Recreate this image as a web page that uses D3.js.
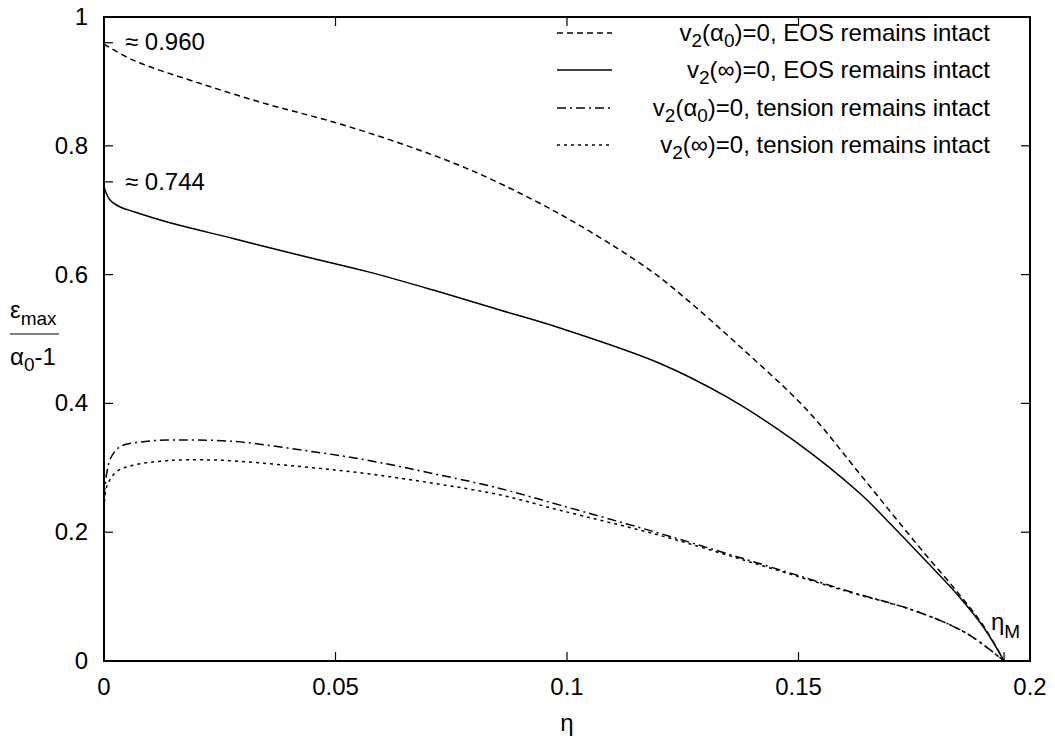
<!DOCTYPE html>
<html>
<head>
<meta charset="utf-8">
<script src="https://cdn.jsdelivr.net/npm/d3@7"></script>
<style>
  body { margin: 0; background: #fff; }
  svg { font-family: "Liberation Sans", Arial, sans-serif; }
</style>
</head>
<body>
<svg id="chart" width="1055" height="740"></svg>
<script>
// eta values and curve values
const etaM = 0.1944;

const eosAlpha = [
  [0, 0.958], [0.0063, 0.933], [0.0207, 0.897], [0.0351, 0.865], [0.0495, 0.837],
  [0.0639, 0.804], [0.0783, 0.765], [0.0927, 0.716], [0.1045, 0.669], [0.1179, 0.607],
  [0.1251, 0.566], [0.1374, 0.488], [0.1518, 0.390], [0.1633, 0.290], [0.1705, 0.226],
  [0.1777, 0.163], [0.1842, 0.108], [0.190, 0.054], [etaM, 0]
];

const eosInf = [
  [0, 0.738], [0.0002, 0.732], [0.0013, 0.716], [0.0035, 0.705], [0.0063, 0.698],
  [0.0135, 0.682], [0.0279, 0.656], [0.0423, 0.630], [0.0567, 0.605], [0.0711, 0.576],
  [0.0855, 0.545], [0.0985, 0.517], [0.1201, 0.462], [0.1345, 0.410], [0.1489, 0.343],
  [0.1633, 0.260], [0.1705, 0.208], [0.1777, 0.154], [0.1842, 0.104], [0.190, 0.052], [etaM, 0]
];

const tensionAlpha = [
  [0, 0.255], [0.0006, 0.292], [0.0015, 0.316], [0.0035, 0.333], [0.0078, 0.340],
  [0.0135, 0.343], [0.0279, 0.341], [0.0423, 0.328], [0.0567, 0.312], [0.0711, 0.291],
  [0.0855, 0.268], [0.0985, 0.242], [0.1201, 0.198], [0.1417, 0.151], [0.161, 0.108],
  [0.1755, 0.077], [0.1863, 0.043], [etaM, 0]
];

const tensionInf = [
  [0, 0.225], [0.0006, 0.271], [0.0027, 0.294], [0.0063, 0.304], [0.0135, 0.311],
  [0.0243, 0.312], [0.0423, 0.302], [0.0567, 0.291], [0.0711, 0.276], [0.0855, 0.258],
  [0.0985, 0.234], [0.1201, 0.195], [0.1417, 0.149], [0.161, 0.107], [0.1755, 0.077],
  [0.1863, 0.043], [etaM, 0]
];

const xTicks = [0, 0.05, 0.1, 0.15, 0.2];
const xTickLabels = ['0', '0.05', '0.1', '0.15', '0.2'];
const yTicks = [0, 0.2, 0.4, 0.6, 0.8, 1];
const yTickLabels = ['0', '0.2', '0.4', '0.6', '0.8', '1'];

const series = [
  { data: eosAlpha, dash: '6,4', label: ['v', '2', '(α', '0', ')=0, EOS remains intact'] },
  { data: eosInf, dash: null, label: ['v', '2', '(∞)=0, EOS remains intact'] },
  { data: tensionAlpha, dash: '9,4,2,4', label: ['v', '2', '(α', '0', ')=0, tension remains intact'] },
  { data: tensionInf, dash: '3,4', label: ['v', '2', '(∞)=0, tension remains intact'] }
];

const svg = d3.select('#chart');
const margin = { left: 104, top: 17, right: 1030, bottom: 661 };
const fs = 24, subFs = 19, subDy = 6;

const x = d3.scaleLinear().domain([0, 0.2]).range([margin.left, margin.right]);
const y = d3.scaleLinear().domain([0, 1]).range([margin.bottom, margin.top]);

const tickLen = 9;

// inward ticks on all four sides
const axisG = svg.append('g').attr('stroke', '#000').attr('stroke-width', 1.2);
xTicks.forEach(t => {
  axisG.append('line').attr('x1', x(t)).attr('x2', x(t)).attr('y1', margin.bottom).attr('y2', margin.bottom - tickLen);
  axisG.append('line').attr('x1', x(t)).attr('x2', x(t)).attr('y1', margin.top).attr('y2', margin.top + tickLen);
});
yTicks.forEach(t => {
  axisG.append('line').attr('x1', margin.left).attr('x2', margin.left + tickLen).attr('y1', y(t)).attr('y2', y(t));
  axisG.append('line').attr('x1', margin.right).attr('x2', margin.right - tickLen).attr('y1', y(t)).attr('y2', y(t));
});

// extra marks: limits at eta=0 and eta_M
[0.960, 0.744].forEach(v => {
  axisG.append('line').attr('x1', margin.left).attr('x2', margin.left + tickLen).attr('y1', y(v)).attr('y2', y(v));
});
axisG.append('line').attr('x1', x(etaM)).attr('x2', x(etaM)).attr('y1', margin.bottom).attr('y2', margin.bottom - tickLen);

// tick labels
svg.append('g').selectAll('text')
  .data(xTicks)
  .enter().append('text')
  .attr('x', d => x(d))
  .attr('y', 695)
  .attr('text-anchor', 'middle')
  .attr('font-size', fs)
  .text((d, i) => xTickLabels[i]);

svg.append('g').selectAll('text')
  .data(yTicks)
  .enter().append('text')
  .attr('x', 88)
  .attr('y', d => y(d) + 8)
  .attr('text-anchor', 'end')
  .attr('font-size', fs)
  .text((d, i) => yTickLabels[i]);

// curves
const line = d3.line()
  .x(d => x(d[0]))
  .y(d => y(d[1]))
  .curve(d3.curveCatmullRom.alpha(0.5));

series.forEach(s => {
  svg.append('path')
    .attr('d', line(s.data))
    .attr('fill', 'none')
    .attr('stroke', '#000')
    .attr('stroke-width', 1.5)
    .attr('stroke-dasharray', s.dash);
});

// frame
svg.append('rect')
  .attr('x', margin.left).attr('y', margin.top)
  .attr('width', margin.right - margin.left)
  .attr('height', margin.bottom - margin.top)
  .attr('fill', 'none').attr('stroke', '#000').attr('stroke-width', 2);

// legend
const legendY = [33, 70, 108, 145];
series.forEach((s, i) => {
  const ly = legendY[i];
  svg.append('line')
    .attr('x1', 557).attr('x2', 612)
    .attr('y1', ly).attr('y2', ly)
    .attr('stroke', '#000').attr('stroke-width', 1.5)
    .attr('stroke-dasharray', s.dash);
  const t = svg.append('text')
    .attr('x', 990).attr('y', ly + 8)
    .attr('text-anchor', 'end')
    .attr('font-size', fs);
  s.label.forEach((part, j) => {
    const sub = (j % 2 === 1);
    t.append('tspan')
      .attr('font-size', sub ? subFs : fs)
      .attr('dy', sub ? subDy : (j === 0 ? 0 : -subDy))
      .text(part);
  });
});

// annotations
svg.append('text').attr('x', 125).attr('y', 50).attr('font-size', fs).text('≈ 0.960');
svg.append('text').attr('x', 125).attr('y', 190).attr('font-size', fs).text('≈ 0.744');

const etaLabel = svg.append('text').attr('x', 991).attr('y', 630).attr('font-size', fs);
etaLabel.append('tspan').text('η');
etaLabel.append('tspan').attr('font-size', subFs).attr('dy', subDy + 2).text('M');

// axis titles
svg.append('text').attr('x', 567).attr('y', 731).attr('text-anchor', 'middle')
  .attr('font-size', fs).text('η');

const num = svg.append('text').attr('x', 10).attr('y', 318).attr('font-size', fs);
num.append('tspan').text('ε');
num.append('tspan').attr('font-size', subFs).attr('dy', subDy + 1).text('max');
svg.append('line').attr('x1', 10).attr('x2', 59).attr('y1', 334).attr('y2', 334)
  .attr('stroke', '#000').attr('stroke-width', 1.2);
const den = svg.append('text').attr('x', 10).attr('y', 365).attr('font-size', fs);
den.append('tspan').text('α');
den.append('tspan').attr('font-size', subFs).attr('dy', subDy).text('0');
den.append('tspan').attr('dy', -subDy).text('-1');
</script>
</body>
</html>
